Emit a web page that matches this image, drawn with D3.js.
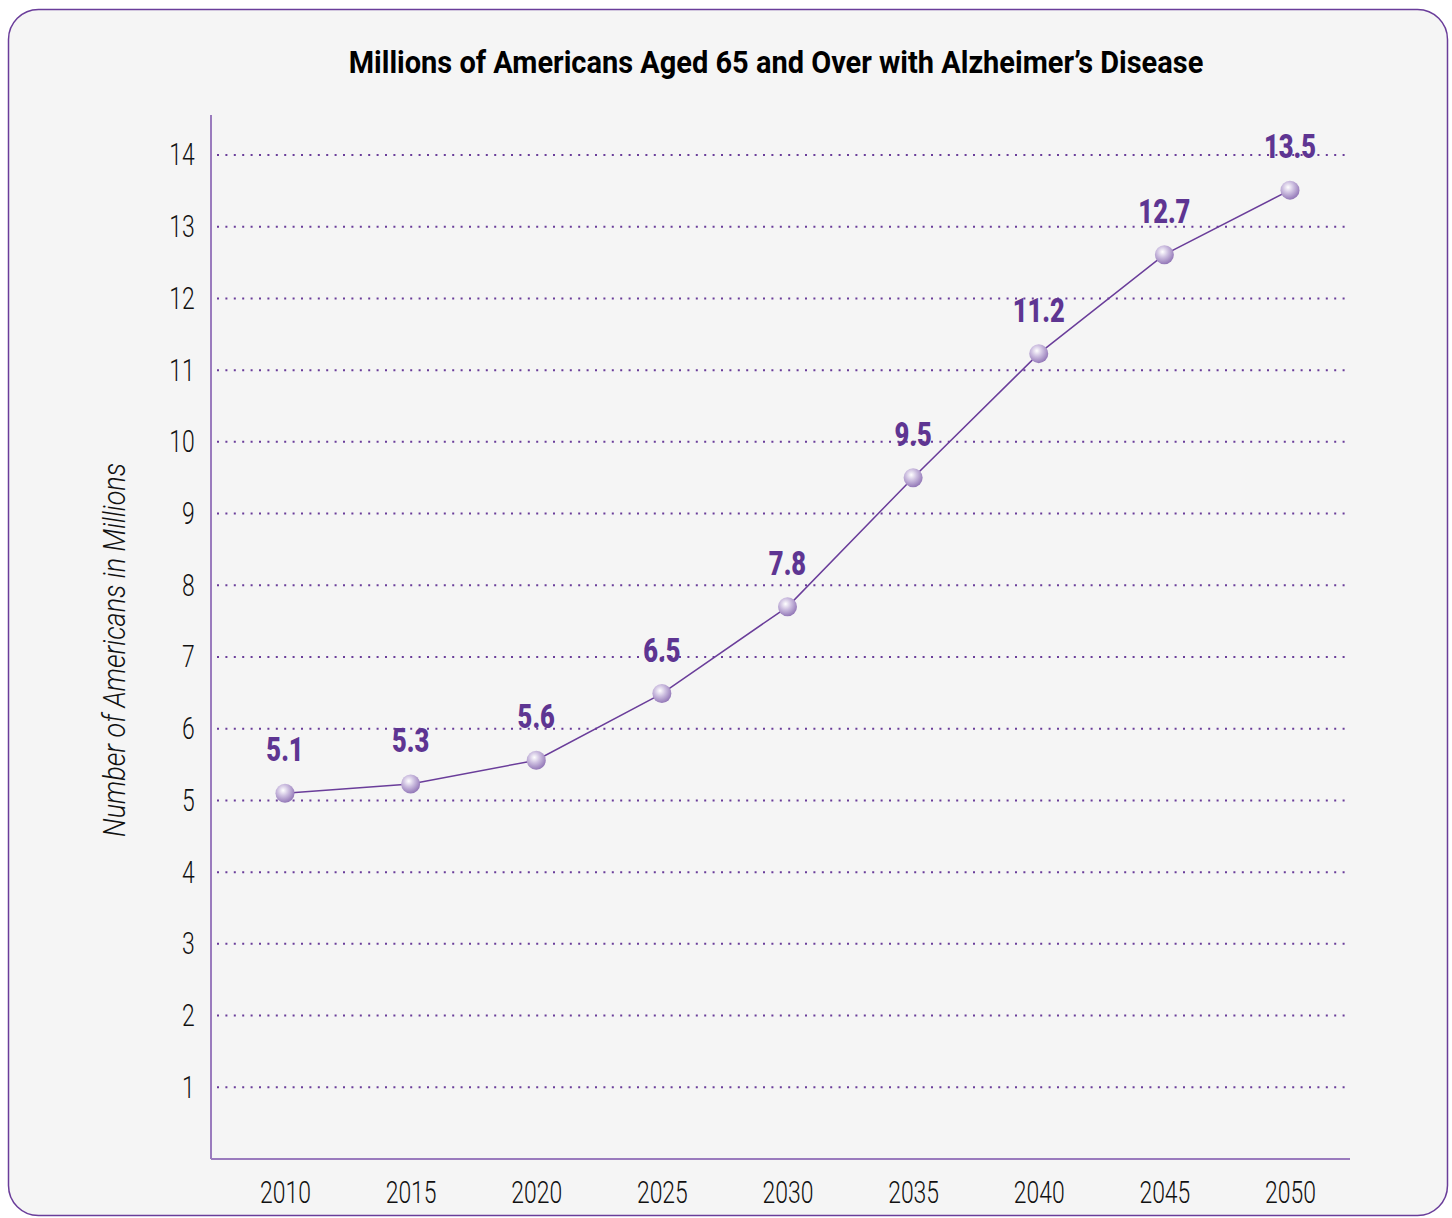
<!DOCTYPE html>
<html>
<head>
<meta charset="utf-8">
<script src="https://cdn.jsdelivr.net/npm/d3@7"></script>
<style>
  body { margin: 0; background: #fff; }
  svg text { font-family: "Roboto", "Liberation Sans", sans-serif; }
</style>
</head>
<body>
<div id="chart"></div>
<script>
const years = [2010, 2015, 2020, 2025, 2030, 2035, 2040, 2045, 2050];
const values = [5.1, 5.23, 5.56, 6.49, 7.7, 9.5, 11.23, 12.61, 13.51];
const valueLabels = ["5.1", "5.3", "5.6", "6.5", "7.8", "9.5", "11.2", "12.7", "13.5"];
const yTicks = [1, 2, 3, 4, 5, 6, 7, 8, 9, 10, 11, 12, 13, 14];

const W = 1452, H = 1218;
const purple = "#6a3d9a";
const narrow = 0.74; // fake a condensed face by squeezing text horizontally

const svg = d3.select("#chart").append("svg")
    .attr("width", W)
    .attr("height", H);

// Sphere look for the markers
const grad = svg.append("defs").append("radialGradient")
    .attr("id", "ball")
    .attr("cx", "40%").attr("cy", "35%").attr("r", "65%");
grad.append("stop").attr("offset", "0%").attr("stop-color", "#ffffff");
grad.append("stop").attr("offset", "45%").attr("stop-color", "#cdbfe0");
grad.append("stop").attr("offset", "100%").attr("stop-color", "#9479b8");

// Panel
svg.append("rect")
    .attr("x", 8.5).attr("y", 9.5)
    .attr("width", 1439).attr("height", 1206)
    .attr("rx", 30).attr("ry", 30)
    .attr("fill", "#f5f5f5")
    .attr("stroke", purple)
    .attr("stroke-width", 1.5);

// Title, squeezed to the reference width
const title = svg.append("text")
    .attr("text-anchor", "middle")
    .attr("font-size", 32)
    .attr("font-weight", "bold")
    .attr("fill", "#000")
    .text("Millions of Americans Aged 65 and Over with Alzheimer\u2019s Disease");
const tw = title.node().getComputedTextLength();
title.attr("transform", `translate(776,73) scale(${855 / tw},1)`);

// Scales
const x = d3.scaleLinear().domain([2010, 2050]).range([285, 1290]);
const y = d3.scaleLinear().domain([0, 14]).range([1159, 155]);
const left = 211, right = 1350;

// Gridlines
svg.append("g").selectAll("line")
    .data(yTicks)
    .join("line")
    .attr("x1", left + 6).attr("x2", right)
    .attr("y1", d => y(d)).attr("y2", d => y(d))
    .attr("stroke", purple)
    .attr("stroke-width", 2)
    .attr("stroke-dasharray", "2,6.4");

// Y axis
const yAxis = svg.append("g")
    .attr("transform", `translate(${left},0)`)
    .call(d3.axisLeft(y).tickValues(yTicks).tickSize(0).tickPadding(22));
yAxis.select(".domain").remove();
yAxis.selectAll("text")
    .attr("font-size", 31)
    .attr("font-weight", 300)
    .attr("fill", "#111")
    .attr("transform", `scale(${narrow},1)`);

svg.append("line")
    .attr("x1", left).attr("x2", left)
    .attr("y1", 115).attr("y2", y(0))
    .attr("stroke", "#9a7bbd")
    .attr("stroke-width", 2);

// X axis
const xAxis = svg.append("g")
    .attr("transform", `translate(0,${y(0)})`)
    .call(d3.axisBottom(x).tickValues(years).tickFormat(d3.format("d")).tickSize(0).tickPadding(22));
xAxis.select(".domain").remove();
xAxis.selectAll("text")
    .attr("font-size", 31)
    .attr("font-weight", 300)
    .attr("fill", "#111")
    .attr("transform", `scale(${narrow},1)`);

svg.append("line")
    .attr("x1", left).attr("x2", right)
    .attr("y1", y(0)).attr("y2", y(0))
    .attr("stroke", "#9a7bbd")
    .attr("stroke-width", 2);

// Y axis title
const yTitle = svg.append("text")
    .attr("text-anchor", "middle")
    .attr("font-size", 31)
    .attr("font-weight", 300)
    .attr("font-style", "italic")
    .attr("fill", "#111")
    .text("Number of Americans in Millions");
const yw = yTitle.node().getComputedTextLength();
yTitle.attr("transform", `translate(125,650) rotate(-90) scale(${374 / yw},1)`);

// Line
const pts = years.map((yr, i) => ({ year: yr, value: values[i], label: valueLabels[i] }));

svg.append("path")
    .datum(pts)
    .attr("fill", "none")
    .attr("stroke", purple)
    .attr("stroke-width", 1.5)
    .attr("d", d3.line().x(d => x(d.year)).y(d => y(d.value)));

// Markers
svg.append("g").selectAll("circle")
    .data(pts)
    .join("circle")
    .attr("cx", d => x(d.year))
    .attr("cy", d => y(d.value))
    .attr("r", 9.5)
    .attr("fill", "url(#ball)");

// Value labels
svg.append("g").selectAll("text")
    .data(pts)
    .join("text")
    .attr("transform", d => `translate(${x(d.year)},${y(d.value) - 32}) scale(0.75,1)`)
    .attr("text-anchor", "middle")
    .attr("font-size", 34)
    .attr("font-weight", 900)
    .attr("fill", "#5e3592")
    .text(d => d.label);
</script>
</body>
</html>
